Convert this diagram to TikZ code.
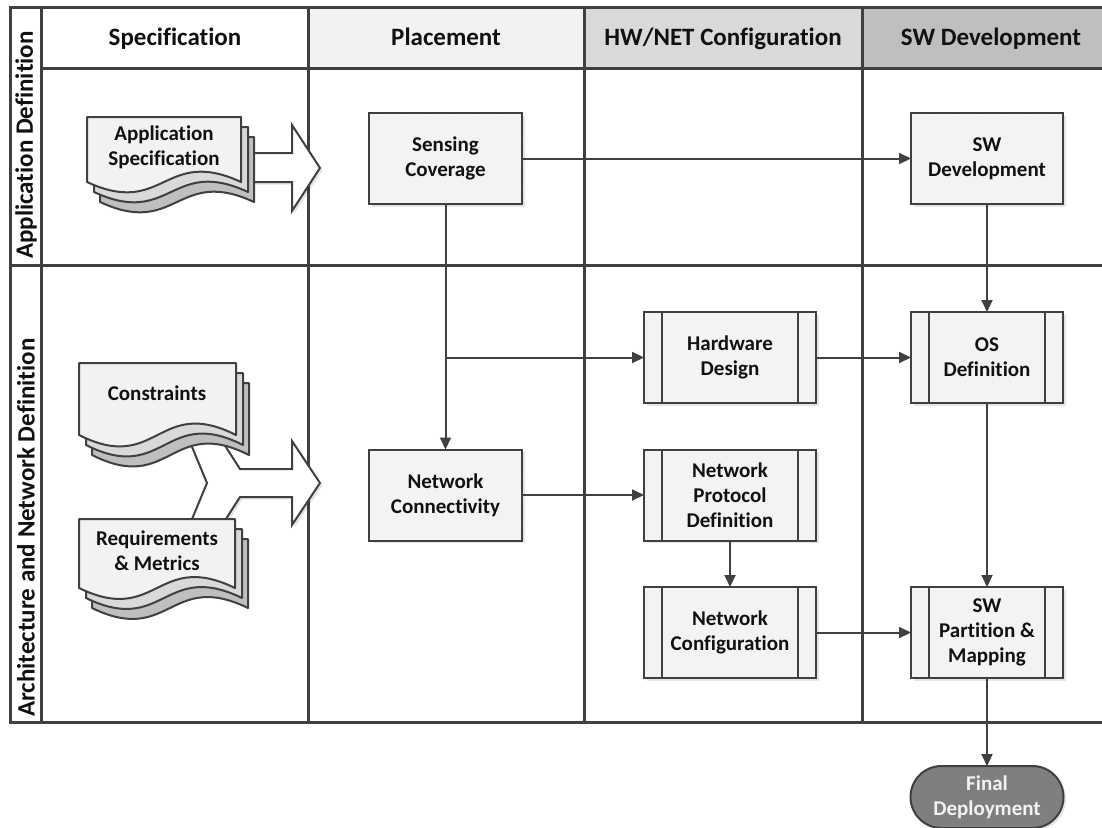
\documentclass[tikz,border=0pt]{standalone}
\usepackage{fontspec}
\setmainfont{Carlito}[Ligatures={NoCommon}]
\usetikzlibrary{arrows.meta,patterns,shadows}

\definecolor{ink}{HTML}{404040}
\definecolor{txt}{HTML}{111111}
\definecolor{hdrA}{HTML}{F2F2F2}
\definecolor{hdrB}{HTML}{D9D9D9}
\definecolor{hdrC}{HTML}{BFBFBF}
\definecolor{boxfill}{HTML}{F5F5F5}
\definecolor{docA}{HTML}{F2F2F2}
\definecolor{docB}{HTML}{D9D9D9}
\definecolor{docC}{HTML}{BFBFBF}
\definecolor{endfill}{HTML}{7F7F7F}

\tikzset{
  frameline/.style={draw=ink, line width=3pt},
  conn/.style={draw=ink, line width=2pt, -{Triangle[length=12pt,width=11pt]}},
  softshadow/.style={drop shadow={shadow xshift=2.5pt, shadow yshift=-2.5pt, fill=black, opacity=0.10}},
  hdrtext/.style={anchor=base, inner sep=0pt, font=\fontsize{25}{30}\selectfont\bfseries, text=txt},
  lanetext/.style={rotate=90, anchor=west, inner sep=0pt, font=\fontsize{25}{30}\selectfont\bfseries, text=txt},
  boxtext/.style={align=center, font=\fontsize{21}{25}\selectfont\bfseries, text=txt},
  taskbox/.style={rectangle, draw=ink, line width=2pt, outer sep=0pt, inner sep=2pt,
    minimum height=91pt, softshadow, preaction={fill=boxfill},
    pattern=north east lines, pattern color=black!5, boxtext},
  subbox/.style={taskbox},
  bigarrow/.style={draw=ink, line width=2pt, fill=white, line join=miter, softshadow},
  docline/.style={draw=ink, line width=2pt, line join=round},
  endbox/.style={rectangle, rounded corners=31pt, draw=ink, line width=2pt, outer sep=0pt,
    fill=endfill, minimum width=153pt, minimum height=62pt, softshadow,
    align=center, font=\fontsize{21}{25}\selectfont\bfseries, text=hdrA},
}

% one page of a document: top edge, straight sides, wavy bottom
\newcommand\wavepage[5]{%
  \begin{scope}[shift={(#1,#2)}]
    \filldraw[docline, fill=#5] (0,0) -- (#3,0) -- (#3,#4)
      .. controls (0.5*#3,#4-0.55*#4) and (0.5*#3,#4+0.55*#4) .. (0,#4) -- cycle;
  \end{scope}}
% a stack of three pages
\newcommand\pagestack[4]{%
  \wavepage{#1+13}{#2+20}{#3}{#4}{docC}%
  \wavepage{#1+7}{#2+10}{#3}{#4}{docB}%
  \wavepage{#1}{#2}{#3}{#4}{docA}}
% vertical side bars of a predefined-process box
\newcommand\sidebars[1]{%
  \draw[draw=ink, line width=2pt] ([xshift=18pt]#1.north west) -- ([xshift=18pt]#1.south west);
  \draw[draw=ink, line width=2pt] ([xshift=-18pt]#1.north east) -- ([xshift=-18pt]#1.south east);}

\begin{document}
\begin{tikzpicture}[x=1pt, y=-1pt]
  \useasboundingbox (0,0) rectangle (1102,827);
  \fill[white] (0,0) rectangle (1102,827);

  % header cells
  \fill[hdrA] (308,7) rectangle (584,68);
  \fill[hdrB] (584,7) rectangle (862,68);
  \fill[hdrC] (862,7) rectangle (1102,68);

  % lanes and columns
  \draw[frameline] (1102,7) -- (10,7) -- (10,722) -- (1102,722);
  \draw[frameline] (41,7) -- (41,722);
  \draw[frameline] (41,68) -- (1102,68);
  \draw[frameline] (10,265) -- (1102,265);
  \draw[frameline] (308,7) -- (308,722);
  \draw[frameline] (584,7) -- (584,722);
  \draw[frameline] (862,7) -- (862,722);

  % column titles
  \node[hdrtext] (hspec) at (175,45) {Specification};
  \node[hdrtext] (hplace) at (446,45) {Placement};
  \node[hdrtext] (hhw) at (723,45) {HW/NET Configuration};
  \node[hdrtext] (hsw) at (991,45) {SW Development};

  % lane titles
  \node[lanetext] (lapp) at (26,259) {Application Definition};
  \node[lanetext] (larch) at (26,717) {Architecture and Network Definition};

  % block arrows from the specification documents
  \draw[bigarrow] (230,153) -- (292,153) -- (292,125) -- (320,168) -- (292,211)
    -- (292,182) -- (230,182) -- cycle;
  \draw[bigarrow] (185,430) -- (215,430) -- (240,469) -- (292,469) -- (292,441)
    -- (320,483) -- (292,525) -- (292,497) -- (240,497) -- (215,536)
    -- (185,536) -- (207,483) -- cycle;

  % specification documents
  \pagestack{87}{117}{154}{65}
  \node[boxtext] (appspec) at (164,147) {Application\\Specification};
  \pagestack{79}{363}{157}{72}
  \node[boxtext] (constr) at (157,393) {Constraints};
  \pagestack{79}{519}{156}{69}
  \node[boxtext] (reqs) at (157,551) {Requirements\\\& Metrics};

  % process boxes
  \node[taskbox, minimum width=153pt] (sc) at (445.5,158.5) {Sensing\\Coverage};
  \node[taskbox, minimum width=152pt] (swd) at (987,158.5) {SW\\Development};
  \node[subbox, minimum width=172pt] (hw) at (730,357.5) {Hardware\\Design};
  \node[subbox, minimum width=152pt] (os) at (987,357.5) {OS\\Definition};
  \node[taskbox, minimum width=153pt] (nc) at (445.5,495) {Network\\Connectivity};
  \node[subbox, minimum width=172pt] (npd) at (730,495) {Network\\Protocol\\Definition};
  \node[subbox, minimum width=172pt] (ncfg) at (730,632.5) {Network\\Configuration};
  \node[subbox, minimum width=152pt] (swp) at (987,632.5) {SW\\Partition \&\\Mapping};
  \node[endbox] (fd) at (987,797) {Final\\Deployment};

  \sidebars{hw}
  \sidebars{os}
  \sidebars{npd}
  \sidebars{ncfg}
  \sidebars{swp}

  % flow
  \draw[conn] (sc.east) -- (swd.west);
  \draw[conn] (sc.south) -- (nc.north);
  \draw[conn] (sc.south |- hw.west) -- (hw.west);
  \draw[conn] (hw.east) -- (os.west);
  \draw[conn] (nc.east) -- (npd.west);
  \draw[conn] (npd.south) -- (ncfg.north);
  \draw[conn] (ncfg.east) -- (swp.west);
  \draw[conn] (swd.south) -- (os.north);
  \draw[conn] (os.south) -- (swp.north);
  \draw[conn] (swp.south) -- (fd.north);
\end{tikzpicture}
\end{document}
